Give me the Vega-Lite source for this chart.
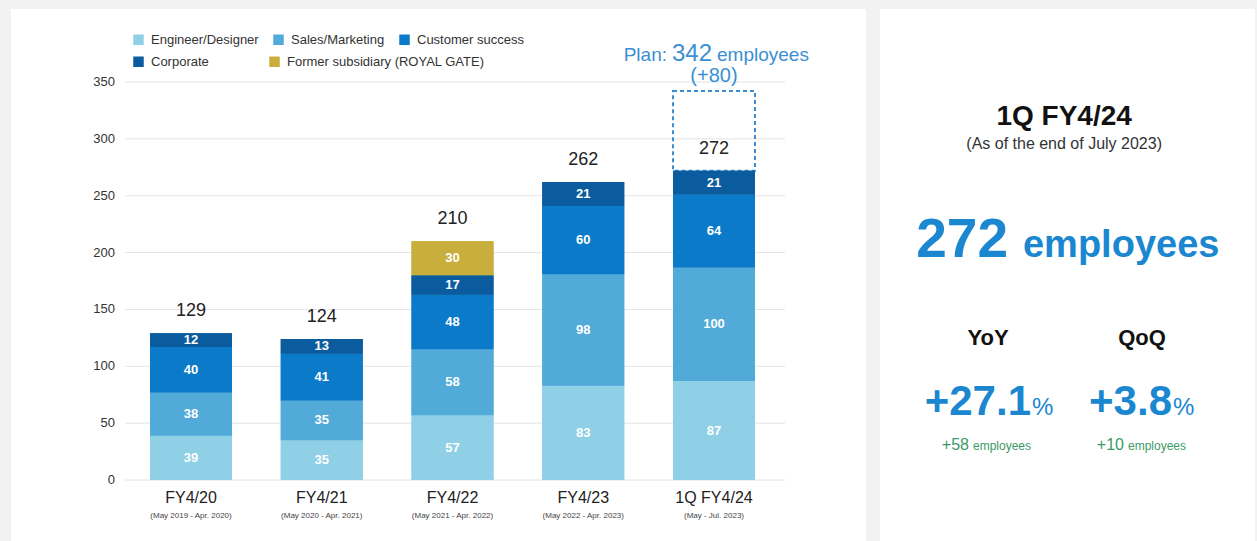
{
  "$schema": "https://vega.github.io/schema/vega-lite/v6.json",
  "background": "#f2f2f2",
  "padding": {"left": 11, "top": 9, "right": 2, "bottom": 0},
  "spacing": 14,
  "config": {"view": {"stroke": null}, "font": "Liberation Sans"},
  "datasets": {
    "staff": [
      {"fy": "FY4/20", "cat": "Engineer/Designer", "k": 1, "n": 39},
      {"fy": "FY4/20", "cat": "Sales/Marketing", "k": 2, "n": 38},
      {"fy": "FY4/20", "cat": "Customer success", "k": 3, "n": 40},
      {"fy": "FY4/20", "cat": "Corporate", "k": 4, "n": 12},
      {"fy": "FY4/21", "cat": "Engineer/Designer", "k": 1, "n": 35},
      {"fy": "FY4/21", "cat": "Sales/Marketing", "k": 2, "n": 35},
      {"fy": "FY4/21", "cat": "Customer success", "k": 3, "n": 41},
      {"fy": "FY4/21", "cat": "Corporate", "k": 4, "n": 13},
      {"fy": "FY4/22", "cat": "Engineer/Designer", "k": 1, "n": 57},
      {"fy": "FY4/22", "cat": "Sales/Marketing", "k": 2, "n": 58},
      {"fy": "FY4/22", "cat": "Customer success", "k": 3, "n": 48},
      {"fy": "FY4/22", "cat": "Corporate", "k": 4, "n": 17},
      {"fy": "FY4/22", "cat": "Former subsidiary (ROYAL GATE)", "k": 5, "n": 30},
      {"fy": "FY4/23", "cat": "Engineer/Designer", "k": 1, "n": 83},
      {"fy": "FY4/23", "cat": "Sales/Marketing", "k": 2, "n": 98},
      {"fy": "FY4/23", "cat": "Customer success", "k": 3, "n": 60},
      {"fy": "FY4/23", "cat": "Corporate", "k": 4, "n": 21},
      {"fy": "1Q FY4/24", "cat": "Engineer/Designer", "k": 1, "n": 87},
      {"fy": "1Q FY4/24", "cat": "Sales/Marketing", "k": 2, "n": 100},
      {"fy": "1Q FY4/24", "cat": "Customer success", "k": 3, "n": 64},
      {"fy": "1Q FY4/24", "cat": "Corporate", "k": 4, "n": 21}
    ],
    "periods": [
      {"fy": "FY4/20", "period": "(May 2019 - Apr. 2020)"},
      {"fy": "FY4/21", "period": "(May 2020 - Apr. 2021)"},
      {"fy": "FY4/22", "period": "(May 2021 - Apr. 2022)"},
      {"fy": "FY4/23", "period": "(May 2022 - Apr. 2023)"},
      {"fy": "1Q FY4/24", "period": "(May - Jul. 2023)"}
    ],
    "plan": [{"fy": "1Q FY4/24", "actual": 272, "plan": 342, "delta": "(+80)"}],
    "grid": [{"v": 0}, {"v": 50}, {"v": 100}, {"v": 150}, {"v": 200}, {"v": 250}, {"v": 300}, {"v": 350}]
  },
  "hconcat": [
    {
      "width": 855,
      "height": 532,
      "view": {"fill": "white", "stroke": null},
      "layer": [
        {
          "data": {"name": "grid"},
          "mark": {"type": "rule", "color": "#e4e4e4", "strokeWidth": 1},
          "encoding": {
            "y": {"field": "v", "type": "quantitative", "scale": {"domain": [-53.6, 414.2], "nice": false, "zero": false}, "axis": null},
            "x": {"datum": "FY4/20", "type": "nominal", "bandPosition": -0.305, "axis": null,
                  "scale": {"type": "band", "domain": ["FY4/20", "FY4/21", "FY4/22", "FY4/23", "1Q FY4/24"], "paddingInner": 0.3728, "paddingOuter": 0.956, "align": 0.556}},
            "x2": {"datum": "1Q FY4/24", "bandPosition": 1.366}
          }
        },
        {
          "data": {"name": "grid"},
          "mark": {"type": "text", "fontSize": 13, "color": "#333", "align": "right", "baseline": "middle"},
          "encoding": {
            "y": {"field": "v", "type": "quantitative", "axis": null},
            "x": {"datum": "FY4/20", "type": "nominal", "bandPosition": -0.427, "axis": null},
            "text": {"field": "v", "type": "quantitative"}
          }
        },
        {
          "data": {"name": "plan"},
          "mark": {"type": "bar", "filled": false, "stroke": "#3d8fd4", "strokeWidth": 2, "strokeDash": [4, 3]},
          "encoding": {
            "x": {"field": "fy", "type": "nominal", "axis": null},
            "y": {"field": "actual", "type": "quantitative", "axis": null},
            "y2": {"field": "plan"}
          }
        },
        {
          "data": {"name": "staff"},
          "mark": {"type": "bar"},
          "encoding": {
            "x": {"field": "fy", "type": "nominal", "axis": null},
            "y": {"field": "n", "type": "quantitative", "stack": "zero", "axis": null},
            "color": {"field": "cat", "type": "nominal",
                      "scale": {"domain": ["Engineer/Designer", "Sales/Marketing", "Customer success", "Corporate", "Former subsidiary (ROYAL GATE)"], "range": ["#8fd0e6", "#52aad9", "#0b7ac9", "#0a5c9e", "#c8ae3c"]},
                      "legend": {"values": ["Engineer/Designer", "Sales/Marketing", "Customer success"], "orient": "none", "legendX": 121, "legendY": 24, "direction": "horizontal", "title": null, "symbolType": "square", "symbolSize": 110, "symbolStrokeWidth": 0, "labelFontSize": 13, "labelColor": "#333", "labelOffset": 6, "labelLimit": 400, "columnPadding": 13}},
            "order": {"field": "k", "type": "quantitative"}
          }
        },
        {
          "data": {"name": "staff"},
          "mark": {"type": "bar"},
          "encoding": {
            "x": {"field": "fy", "type": "nominal", "axis": null},
            "y": {"field": "n", "type": "quantitative", "stack": "zero", "axis": null},
            "fill": {"field": "cat", "type": "nominal",
                     "scale": {"domain": ["Corporate", "Former subsidiary (ROYAL GATE)", "Engineer/Designer", "Sales/Marketing", "Customer success"], "range": ["#0a5c9e", "#c8ae3c", "#8fd0e6", "#52aad9", "#0b7ac9"]},
                     "legend": {"values": ["Corporate", "Former subsidiary (ROYAL GATE)"], "orient": "none", "legendX": 121, "legendY": 46, "direction": "horizontal", "title": null, "symbolType": "square", "symbolSize": 110, "symbolStrokeWidth": 0, "labelFontSize": 13, "labelColor": "#333", "labelOffset": 6, "labelLimit": 400, "columnPadding": 59}},
            "order": {"field": "k", "type": "quantitative"}
          }
        },
        {
          "data": {"name": "staff"},
          "transform": [
            {"stack": "n", "groupby": ["fy"], "sort": [{"field": "k"}], "as": ["y0", "y1"]},
            {"calculate": "(datum.y0 + datum.y1) / 2", "as": "ym"}
          ],
          "mark": {"type": "text", "color": "white", "fontWeight": "bold", "fontSize": 13, "baseline": "middle"},
          "encoding": {
            "x": {"field": "fy", "type": "nominal", "axis": null},
            "y": {"field": "ym", "type": "quantitative", "axis": null},
            "text": {"field": "n", "type": "quantitative"}
          }
        },
        {
          "data": {"name": "staff"},
          "transform": [{"aggregate": [{"op": "sum", "field": "n", "as": "total"}], "groupby": ["fy"]}],
          "mark": {"type": "text", "fontSize": 18, "color": "#222", "baseline": "alphabetic", "dy": -17},
          "encoding": {
            "x": {"field": "fy", "type": "nominal", "axis": null},
            "y": {"field": "total", "type": "quantitative", "axis": null},
            "text": {"field": "total", "type": "quantitative"}
          }
        },
        {
          "data": {"name": "periods"},
          "mark": {"type": "text", "fontSize": 16, "color": "#222", "baseline": "alphabetic"},
          "encoding": {
            "x": {"field": "fy", "type": "nominal", "axis": null},
            "y": {"datum": -20.2, "type": "quantitative", "axis": null},
            "text": {"field": "fy"}
          }
        },
        {
          "data": {"name": "periods"},
          "mark": {"type": "text", "fontSize": 8, "color": "#444", "baseline": "alphabetic"},
          "encoding": {
            "x": {"field": "fy", "type": "nominal", "axis": null},
            "y": {"datum": -33.4, "type": "quantitative", "axis": null},
            "text": {"field": "period"}
          }
        },
        {
          "data": {"name": "plan"},
          "mark": {"type": "text", "fontSize": 19, "color": "#3b8fd3", "baseline": "alphabetic", "align": "right", "dx": -47},
          "encoding": {
            "x": {"field": "fy", "type": "nominal", "axis": null},
            "y": {"datum": 368.8, "type": "quantitative", "axis": null},
            "text": {"value": "Plan:"}
          }
        },
        {
          "data": {"name": "plan"},
          "mark": {"type": "text", "fontSize": 24, "color": "#3b8fd3", "baseline": "alphabetic", "align": "left", "dx": -42},
          "encoding": {
            "x": {"field": "fy", "type": "nominal", "axis": null},
            "y": {"datum": 368.8, "type": "quantitative", "axis": null},
            "text": {"field": "plan", "type": "quantitative"}
          }
        },
        {
          "data": {"name": "plan"},
          "mark": {"type": "text", "fontSize": 19, "color": "#3b8fd3", "baseline": "alphabetic", "align": "left", "dx": 3},
          "encoding": {
            "x": {"field": "fy", "type": "nominal", "axis": null},
            "y": {"datum": 368.8, "type": "quantitative", "axis": null},
            "text": {"value": "employees"}
          }
        },
        {
          "data": {"name": "plan"},
          "mark": {"type": "text", "fontSize": 20, "color": "#3b8fd3", "baseline": "alphabetic", "align": "center"},
          "encoding": {
            "x": {"field": "fy", "type": "nominal", "axis": null},
            "y": {"datum": 350.0, "type": "quantitative", "axis": null},
            "text": {"field": "delta"}
          }
        }
      ]
    },
    {
      "width": 375,
      "height": 532,
      "view": {"fill": "white", "stroke": null},
      "layer": [
        {
          "data": {"values": [{"t": "1Q FY4/24"}]},
          "mark": {"type": "text", "fontSize": 28, "fontWeight": "bold", "color": "#111", "align": "center", "baseline": "alphabetic"},
          "encoding": {
            "x": {"datum": 49.1, "type": "quantitative", "scale": {"domain": [0, 100], "nice": false, "zero": false}, "axis": null},
            "y": {"datum": 78.2, "type": "quantitative", "scale": {"domain": [0, 100], "nice": false, "zero": false}, "axis": null},
            "text": {"field": "t"}
          }
        },
        {
          "data": {"values": [{"t": "(As of the end of July 2023)"}]},
          "mark": {"type": "text", "fontSize": 16, "color": "#333", "align": "center", "baseline": "alphabetic"},
          "encoding": {
            "x": {"datum": 49.1, "type": "quantitative", "axis": null},
            "y": {"datum": 73.7, "type": "quantitative", "axis": null},
            "text": {"field": "t"}
          }
        },
        {
          "data": {"name": "staff"},
          "transform": [
            {"filter": "datum.fy === '1Q FY4/24'"},
            {"aggregate": [{"op": "sum", "field": "n", "as": "total"}]}
          ],
          "mark": {"type": "text", "fontSize": 55, "fontWeight": "bold", "color": "#1a87d0", "align": "right", "baseline": "alphabetic"},
          "encoding": {
            "x": {"datum": 34.13, "type": "quantitative", "axis": null},
            "y": {"datum": 53.38, "type": "quantitative", "axis": null},
            "text": {"field": "total", "type": "quantitative"}
          }
        },
        {
          "data": {"values": [{"t": "employees"}]},
          "mark": {"type": "text", "fontSize": 38, "fontWeight": "bold", "color": "#1a87d0", "align": "left", "baseline": "alphabetic"},
          "encoding": {
            "x": {"datum": 38.13, "type": "quantitative", "axis": null},
            "y": {"datum": 53.38, "type": "quantitative", "axis": null},
            "text": {"field": "t"}
          }
        },
        {
          "data": {"values": [{"t": "YoY"}]},
          "mark": {"type": "text", "fontSize": 22, "fontWeight": "bold", "color": "#111", "align": "center", "baseline": "alphabetic"},
          "encoding": {
            "x": {"datum": 28.8, "type": "quantitative", "axis": null},
            "y": {"datum": 36.84, "type": "quantitative", "axis": null},
            "text": {"field": "t"}
          }
        },
        {
          "data": {"values": [{"t": "QoQ"}]},
          "mark": {"type": "text", "fontSize": 22, "fontWeight": "bold", "color": "#111", "align": "center", "baseline": "alphabetic"},
          "encoding": {
            "x": {"datum": 69.87, "type": "quantitative", "axis": null},
            "y": {"datum": 36.84, "type": "quantitative", "axis": null},
            "text": {"field": "t"}
          }
        },
        {
          "data": {"values": [{"t": "+27.1"}]},
          "mark": {"type": "text", "fontSize": 42, "fontWeight": "bold", "color": "#1a87d0", "align": "right", "baseline": "alphabetic"},
          "encoding": {
            "x": {"datum": 40.27, "type": "quantitative", "axis": null},
            "y": {"datum": 23.68, "type": "quantitative", "axis": null},
            "text": {"field": "t"}
          }
        },
        {
          "data": {"values": [{"t": "%"}]},
          "mark": {"type": "text", "fontSize": 24, "color": "#1a87d0", "align": "left", "baseline": "alphabetic"},
          "encoding": {
            "x": {"datum": 40.53, "type": "quantitative", "axis": null},
            "y": {"datum": 23.68, "type": "quantitative", "axis": null},
            "text": {"field": "t"}
          }
        },
        {
          "data": {"values": [{"t": "+3.8"}]},
          "mark": {"type": "text", "fontSize": 42, "fontWeight": "bold", "color": "#1a87d0", "align": "right", "baseline": "alphabetic"},
          "encoding": {
            "x": {"datum": 77.87, "type": "quantitative", "axis": null},
            "y": {"datum": 23.68, "type": "quantitative", "axis": null},
            "text": {"field": "t"}
          }
        },
        {
          "data": {"values": [{"t": "%"}]},
          "mark": {"type": "text", "fontSize": 24, "color": "#1a87d0", "align": "left", "baseline": "alphabetic"},
          "encoding": {
            "x": {"datum": 78.13, "type": "quantitative", "axis": null},
            "y": {"datum": 23.68, "type": "quantitative", "axis": null},
            "text": {"field": "t"}
          }
        },
        {
          "data": {"values": [{"t": "+58"}]},
          "mark": {"type": "text", "fontSize": 16, "color": "#3b9a68", "align": "right", "baseline": "alphabetic", "dx": -2},
          "encoding": {
            "x": {"datum": 24.27, "type": "quantitative", "axis": null},
            "y": {"datum": 17.1, "type": "quantitative", "axis": null},
            "text": {"field": "t"}
          }
        },
        {
          "data": {"values": [{"t": "employees"}]},
          "mark": {"type": "text", "fontSize": 12, "color": "#3b9a68", "align": "left", "baseline": "alphabetic", "dx": 2},
          "encoding": {
            "x": {"datum": 24.27, "type": "quantitative", "axis": null},
            "y": {"datum": 17.1, "type": "quantitative", "axis": null},
            "text": {"field": "t"}
          }
        },
        {
          "data": {"values": [{"t": "+10"}]},
          "mark": {"type": "text", "fontSize": 16, "color": "#3b9a68", "align": "right", "baseline": "alphabetic", "dx": -2},
          "encoding": {
            "x": {"datum": 65.6, "type": "quantitative", "axis": null},
            "y": {"datum": 17.1, "type": "quantitative", "axis": null},
            "text": {"field": "t"}
          }
        },
        {
          "data": {"values": [{"t": "employees"}]},
          "mark": {"type": "text", "fontSize": 12, "color": "#3b9a68", "align": "left", "baseline": "alphabetic", "dx": 2},
          "encoding": {
            "x": {"datum": 65.6, "type": "quantitative", "axis": null},
            "y": {"datum": 17.1, "type": "quantitative", "axis": null},
            "text": {"field": "t"}
          }
        }
      ]
    }
  ]
}
